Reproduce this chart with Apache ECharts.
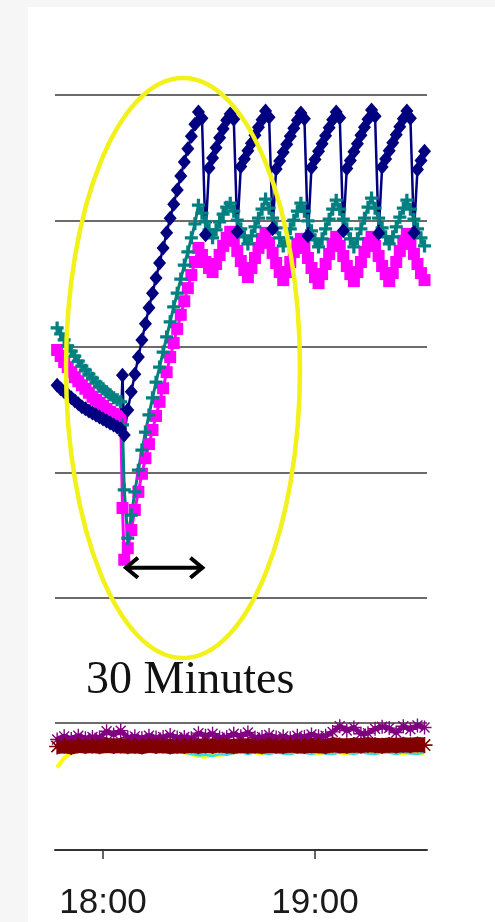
<!DOCTYPE html>
<html><head><meta charset="utf-8">
<script src="https://cdn.jsdelivr.net/npm/echarts@6/dist/echarts.min.js"></script>
<style>
html,body{margin:0;padding:0;background:#f6f6f6;}
#paper{position:absolute;left:28px;top:7px;width:467px;height:915px;background:#fff;}
#chart{position:absolute;left:0;top:0;width:495px;height:922px;}
</style></head><body>
<div id="paper"></div><div id="chart"></div>
<script>
// minutes relative to 18:00
const times = [-13,-12,-11,-10,-9,-8,-7,-6,-5,-4,-3,-2,-1,0,1,2,3,4,5,5.5,6,
7,8,9,10,11,12,13,14,15,16,17,18,19,20,21,22,23,24,25,26,27,
28,29,30,31,32,33,34,35,36,37,38,39,40,41,42,43,44,45,46,47,48,49,50,51,52,53,54,55,56,57,58,59,60,
61,62,63,64,65,66,67,68,69,70,71,72,73,74,75,76,77,78,79,80,81,82,83,84,85,86,87,88,89,90,91];

const navySeries = [42.3,41.6,41.0,40.4,39.8,39.2,38.6,38.0,37.6,37.2,36.8,36.4,36.0,35.6,35.2,34.8,34.4,34.0,33.6,
44.3,32.4,
37.4,41.0,44.5,47.9,51.3,54.5,57.7,60.6,63.6,66.6,69.6,72.6,75.5,78.3,81.1,83.9,86.7,89.3,91.8,94.2,96.6,
95.4,72.2,85.5,87.5,89.5,91.5,93.3,95.0,96.2,
95.2,72.8,85.8,87.3,88.9,90.4,92.0,93.6,95.1,96.8,
95.6,73.4,85.3,86.9,88.6,90.2,91.8,93.4,95.0,96.4,
95.3,72.0,85.6,87.2,88.8,90.3,91.9,93.5,95.1,96.6,
95.5,73.0,85.4,87.0,88.7,90.3,92.0,93.6,95.2,97.0,
95.8,72.5,85.7,87.3,88.9,90.5,92.1,93.7,95.3,96.8,
95.4,72.6,85.2,87.0,88.8];

const tealSeries = [53.7,52.5,51.3,50.1,49.1,48.1,47.1,46.1,45.3,44.5,43.7,42.9,42.1,41.6,41.0,40.4,39.8,39.4,39.0,
34.4,21.5,
11.9,16.5,21.1,25.4,29.4,33.0,36.4,39.8,42.9,45.9,48.9,51.9,54.9,57.9,60.6,63.4,66.2,68.8,71.6,74.4,78.1,
76.5,74.8,73.2,71.6,73.2,74.8,76.3,77.7,78.5,
76.9,75.1,73.4,71.8,70.4,72.0,73.8,75.5,77.3,79.3,
77.5,75.5,73.6,71.6,70.0,71.6,73.4,75.1,76.9,78.5,
76.9,75.0,73.0,71.2,69.8,71.4,73.4,75.3,77.3,79.1,
77.3,75.3,73.4,71.4,69.8,71.4,73.4,75.5,77.7,79.5,
77.5,75.5,73.6,71.8,70.4,71.8,73.8,75.7,77.5,79.1,
77.3,75.3,73.4,71.6,70.0];

const magentaSeries = [49.3,48.1,46.9,45.9,44.9,43.9,43.1,42.3,41.6,40.8,40.0,39.4,38.8,38.2,37.6,37.0,36.6,36.2,35.8,
17.9,7.6,
9.9,13.5,17.5,21.1,24.7,27.8,30.6,33.4,36.2,39.0,41.7,44.9,47.9,50.7,53.5,56.3,59.0,61.6,64.2,66.8,69.6,
68.2,66.8,65.6,64.8,66.4,68.2,70.0,71.6,72.8,
71.0,69.0,67.0,65.2,63.8,65.6,67.6,69.6,71.4,72.6,
70.6,68.6,66.6,64.8,63.2,64.8,66.8,68.8,70.4,71.4,
69.6,67.6,65.6,63.8,62.6,64.4,66.4,68.4,70.4,71.8,
70.0,68.0,66.0,64.4,63.0,64.8,66.8,68.8,70.6,71.8,
70.0,68.0,66.0,64.4,63.0,64.6,66.8,69.0,71.0,72.4,
70.4,68.4,66.4,64.6,63.2];

const lowTimes = [-13,-11,-9,-7,-5,-3,-1,1,3,5,7,9,11,13,15,17,19,21,23,25,27,29,31,33,35,37,39,41,43,45,
47,49,51,53,55,57,59,61,63,65,67,69,71,73,75,77,79,81,83,85,87,89,91];

const darkRedSeries = [81.5,82.0,81.2,82.4,81.8,82.2,81.6,82.5,81.9,82.3,
81.7,82.1,81.4,82.6,81.8,82.2,81.5,82.0,81.9,82.4,
81.6,82.3,81.8,82.7,82.0,81.6,82.4,81.9,82.2,81.7,
82.5,82.0,81.8,82.6,82.1,81.9,82.4,82.2,81.7,82.8,
82.3,82.0,82.6,82.2,82.9,82.4,82.1,82.7,82.3,82.8,
82.5,83.0,82.6];
const purpleSeries = [87.0,89.5,87.5,90.0,88.0,89.0,88.5,93.5,91.0,94.0,
88.5,89.5,88.0,90.0,88.5,89.0,90.5,88.5,89.0,88.0,
92.0,90.0,91.5,88.5,89.0,91.5,89.5,92.5,88.5,89.0,
90.5,88.5,89.5,88.0,90.0,89.0,91.0,89.5,90.0,93.0,
97.5,94.0,96.5,91.5,92.0,95.5,97.0,96.0,92.5,97.5,
95.0,98.0,96.5];
const yellowSeries = [65.0,72.5,76.5,77.5,77.5,77.5,77.5,77.5,77.5,77.5,
77.5,77.5,77.5,77.5,77.5,77.5,77.5,77.5,77.0,75.5,
74.0,73.5,74.5,75.0,75.5,77.0,77.5,77.5,77.0,76.0,
77.5,77.5,77.0,76.0,77.5,77.5,77.0,76.0,77.5,77.5,
77.0,76.0,77.5,77.5,77.0,76.0,77.5,77.5,77.0,76.0,
77.5,77.0,76.0];
const cyanSeries = [77.5,77.5,77.5,77.5,77.5,77.5,77.5,77.5,77.5,77.5,
77.5,77.5,77.5,77.5,77.5,77.5,77.5,77.5,77.0,75.5,
74.5,75.0,74.0,75.5,75.0,76.5,77.0,75.5,77.0,76.5,
75.5,77.0,76.0,75.5,77.0,76.5,75.5,77.0,76.0,75.5,
77.0,76.5,75.5,77.0,76.0,75.5,77.0,76.5,75.5,77.0,
76.0,75.5,77.0];

const tickMinutes = [0, 60];
const xMin = -13.6, xMax = 91.7;
const annotationText = '30 Minutes';
const arrowFrom = 6.2, arrowTo = 28.4, arrowLevel = 6;

const fmt = v => { const h = 18 + Math.floor(v / 60); const m = ((v % 60) + 60) % 60; return h + ':' + (m < 10 ? '0' : '') + m; };
const pairs = arr => times.map((t, i) => [t, arr[i]]);
const lpairs = arr => lowTimes.map((t, i) => [t, arr[i]]);
const plusPath = 'path://M3,0H5V3H8V5H5V8H3V5H0V3H3Z';
const starPath = 'path://M4.5,0h1v10h-1z M0,4.5h10v1h-10z M1.1,1.8l0.7-0.7 7.1,7.1-0.7,0.7z M8.2,1.1l0.7,0.7-7.1,7.1-0.7-0.7z';
const gridLine = { show: true, lineStyle: { color: '#3a3a3a', width: 1.5 } };

const chart = echarts.init(document.getElementById('chart'), null, { renderer: 'canvas' });
chart.setOption({
  animation: false,
  backgroundColor: 'transparent',
  grid: [
    { left: 55, right: 68, top: 95, height: 503 },
    { left: 55, right: 68, top: 723, height: 127 }
  ],
  xAxis: [
    { type: 'value', gridIndex: 0, min: xMin, max: xMax, axisLine: { show: false }, axisTick: { show: false }, axisLabel: { show: false }, splitLine: { show: false } },
    { type: 'value', gridIndex: 1, min: xMin, max: xMax,
      axisLine: { show: true, onZero: false, lineStyle: { color: '#333', width: 2 } },
      axisTick: { show: true, customValues: tickMinutes, length: 9, lineStyle: { color: '#333', width: 1.5 } },
      axisLabel: { show: true, customValues: tickMinutes, formatter: fmt, margin: 36, fontSize: 35, fontFamily: '"Liberation Sans", Arial, sans-serif', color: '#1a1a1a' },
      splitLine: { show: false } }
  ],
  yAxis: [
    { type: 'value', gridIndex: 0, min: 0, max: 100, interval: 25, axisLine: { show: false }, axisTick: { show: false }, axisLabel: { show: false }, splitLine: gridLine },
    { type: 'value', gridIndex: 1, min: 0, max: 100, interval: 100, axisLine: { show: false }, axisTick: { show: false }, axisLabel: { show: false }, splitLine: gridLine }
  ],
  series: [
    { name: 'magenta', type: 'line', xAxisIndex: 0, yAxisIndex: 0, data: pairs(magentaSeries), symbol: 'rect', symbolSize: 12,
      lineStyle: { color: '#ff00ff', width: 3 }, itemStyle: { color: '#ff00ff' } },
    { name: 'teal', type: 'line', xAxisIndex: 0, yAxisIndex: 0, data: pairs(tealSeries), symbol: plusPath, symbolSize: 13,
      lineStyle: { color: '#008080', width: 3 }, itemStyle: { color: '#008080' } },
    { name: 'navy', type: 'line', xAxisIndex: 0, yAxisIndex: 0, data: pairs(navySeries), symbol: 'diamond', symbolSize: [13, 15],
      lineStyle: { color: '#000080', width: 2.5 }, itemStyle: { color: '#000080' } },
    { name: 'yellow', type: 'line', xAxisIndex: 1, yAxisIndex: 1, data: lpairs(yellowSeries), symbol: 'none',
      lineStyle: { color: '#ffff00', width: 4 } },
    { name: 'cyan', type: 'line', xAxisIndex: 1, yAxisIndex: 1, data: lpairs(cyanSeries), symbol: 'none',
      lineStyle: { color: '#33ddee', width: 2.5 } },
    { name: 'purple', type: 'line', xAxisIndex: 1, yAxisIndex: 1, data: lpairs(purpleSeries), symbol: starPath, symbolSize: 14,
      lineStyle: { color: '#800080', width: 5 }, itemStyle: { color: '#800080' } },
    { name: 'darkred', type: 'line', xAxisIndex: 1, yAxisIndex: 1, data: lpairs(darkRedSeries), symbol: starPath, symbolSize: 16,
      lineStyle: { color: '#800000', width: 15 }, itemStyle: { color: '#800000' } }
  ]
});

const p1 = chart.convertToPixel({ gridIndex: 0 }, [arrowFrom, arrowLevel]);
const p2 = chart.convertToPixel({ gridIndex: 0 }, [arrowTo, arrowLevel]);
const arrowStyle = { fill: 'none', stroke: '#000', lineWidth: 4 };
chart.setOption({
  graphic: { elements: [
    { type: 'ellipse', z: 100, silent: true, shape: { cx: 183, cy: 368, rx: 117, ry: 290 }, style: { fill: 'none', stroke: '#f2f21a', lineWidth: 4.5 } },
    { type: 'line', z: 101, shape: { x1: p1[0] + 1, y1: p1[1], x2: p2[0] - 1, y2: p2[1] }, style: arrowStyle },
    { type: 'polyline', z: 101, shape: { points: [[p1[0] + 13, p1[1] - 10], [p1[0] + 1, p1[1]], [p1[0] + 13, p1[1] + 10]] }, style: arrowStyle },
    { type: 'polyline', z: 101, shape: { points: [[p2[0] - 13, p2[1] - 10], [p2[0] - 1, p2[1]], [p2[0] - 13, p2[1] + 10]] }, style: arrowStyle },
    { type: 'text', z: 101, x: 86, y: 681, style: { text: annotationText, font: '46px "Liberation Serif", "Times New Roman", serif', fill: '#111', verticalAlign: 'middle', align: 'left' } }
  ] }
});
</script>
</body></html>
